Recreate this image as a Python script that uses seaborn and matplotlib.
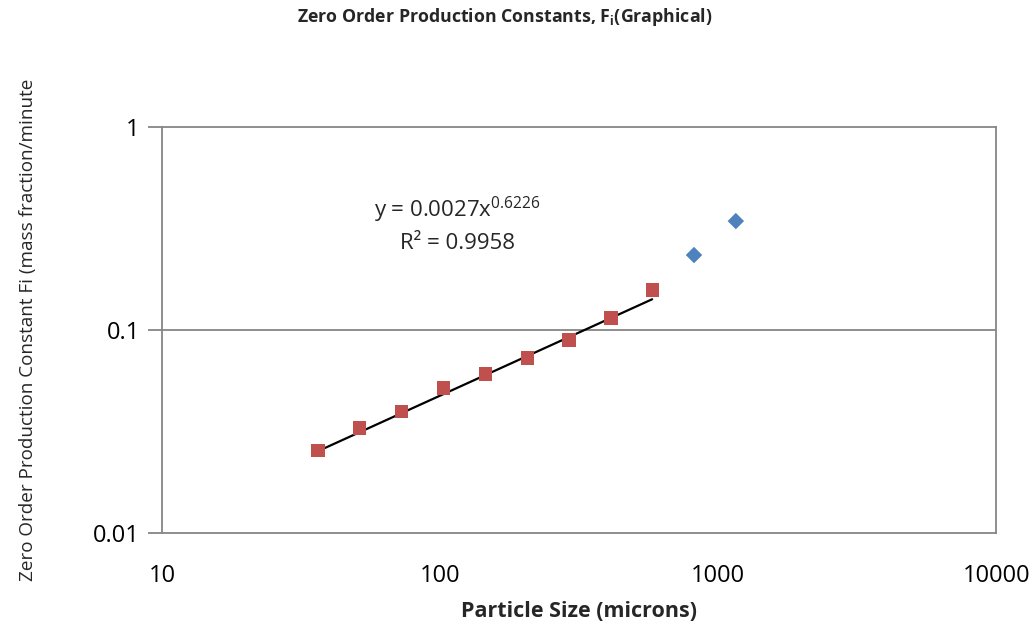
import numpy as np
import pandas as pd
import matplotlib
matplotlib.use("Agg")
import matplotlib.pyplot as plt
import seaborn as sns

# Particle sizes (microns) and zero order production constants
fitted_size = [36.4, 51.5, 72.8, 103, 146, 206, 291, 412, 579]
fitted_fi = [0.0256, 0.0329, 0.0395, 0.0518, 0.0607, 0.0728, 0.0893, 0.1146, 0.1574]
coarse_size = [819, 1158]
coarse_fi = [0.234, 0.344]

# Power-law trendline coefficients
coef_a = 0.0027
coef_b = 0.6226
r_squared = 0.9958

x_ticks = [10, 100, 1000, 10000]
x_tick_labels = ["10", "100", "1000", "10000"]
y_ticks = [0.01, 0.1, 1]
y_tick_labels = ["0.01", "0.1", "1"]

sns.set_theme(style="white")
plt.rcParams["font.family"] = ["Open Sans", "DejaVu Sans"]

fig = plt.figure(figsize=(10.35, 6.25), dpi=100)
ax = fig.add_axes([0.1565, 0.1472, 0.806, 0.6496])

df_fit = pd.DataFrame({"size": fitted_size, "fi": fitted_fi})
df_coarse = pd.DataFrame({"size": coarse_size, "fi": coarse_fi})

ax.set_xscale("log")
ax.set_yscale("log")
ax.set_xlim(10, 10000)
ax.set_ylim(0.01, 1)

# Horizontal major gridline
ax.axhline(0.1, color="#868686", lw=1.3, zorder=1)

# Trendline drawn from the stated equation over the fitted range
xs = np.geomspace(min(fitted_size), max(fitted_size), 100)
ax.plot(xs, coef_a * xs ** coef_b, color="black", lw=1.6, zorder=2)

sns.scatterplot(data=df_fit, x="size", y="fi", ax=ax, marker="s", s=90,
                color="#C0504D", edgecolor="none", zorder=3, legend=False)
sns.scatterplot(data=df_coarse, x="size", y="fi", ax=ax, marker="D", s=70,
                color="#4F81BD", edgecolor="none", zorder=3, legend=False)

ax.set_xticks(x_ticks)
ax.set_xticklabels(x_tick_labels)
ax.set_yticks(y_ticks)
ax.set_yticklabels(y_tick_labels)
ax.minorticks_off()
ax.tick_params(axis="x", length=0, pad=22, labelsize=17, colors="black")
ax.tick_params(axis="y", length=10, width=1.3, direction="out",
               pad=6, labelsize=17, left=True, colors="#868686", labelcolor="black")

for sp in ax.spines.values():
    sp.set_visible(True)
    sp.set_color("#868686")
    sp.set_linewidth(1.3)

ax.set_xlabel("Particle Size (microns)", fontsize=15.5, fontweight="bold", labelpad=10)
ax.set_ylabel("Zero Order Production Constant Fi (mass fraction/minute",
              fontsize=13.6, labelpad=40)

fig.text(0.488, 0.972, r"Zero Order Production Constants, F$_\mathregular{i}$(Graphical)",
         ha="center", va="center", fontsize=12.8, fontweight="bold")

eq_label = f"y = {coef_a}x" + "$^{\\mathregular{" + f"{coef_b}" + "}}$"
ax.text(0.354, 0.796, eq_label, transform=ax.transAxes,
        ha="center", va="center", fontsize=16)
ax.text(0.354, 0.714, f"R² = {r_squared}", transform=ax.transAxes,
        ha="center", va="center", fontsize=16)

fig.savefig("out.png", dpi=100, facecolor="white")
